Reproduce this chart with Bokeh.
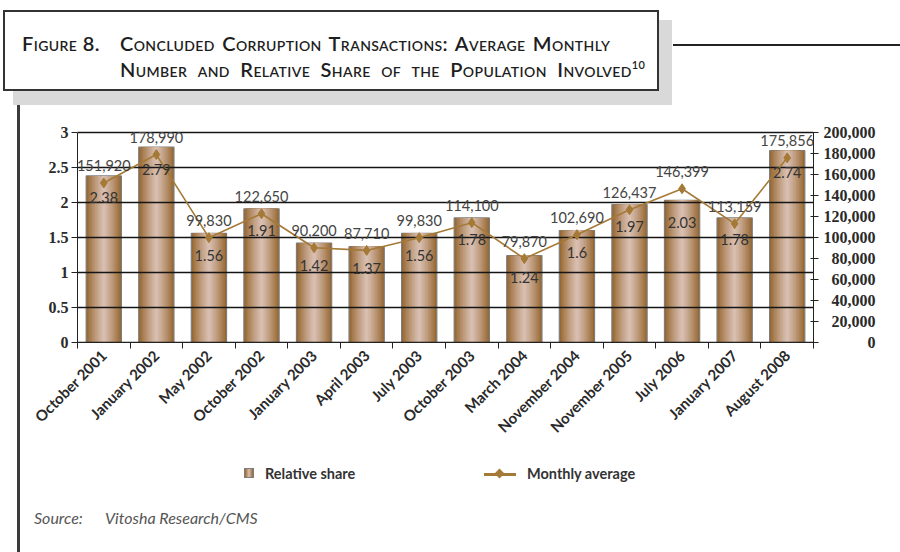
from math import pi
from bokeh.plotting import figure
from bokeh.models import (Range1d, LinearAxis, FixedTicker, NumeralTickFormatter, ColumnDataSource,
                          LabelSet, Div)
from bokeh.core.properties import value
from bokeh.layouts import column, row
from bokeh.embed import file_html
from bokeh.resources import INLINE

# ---------------- data ----------------
categories = ["October 2001", "January 2002", "May 2002", "October 2002", "January 2003",
              "April 2003", "July 2003", "October 2003", "March 2004", "November 2004",
              "November 2005", "July 2006", "January 2007", "August 2008"]
relative_share = [2.38, 2.79, 1.56, 1.91, 1.42, 1.37, 1.56, 1.78, 1.24, 1.6, 1.97, 2.03, 1.78, 2.74]
monthly_average = [151920, 178990, 99830, 122650, 90200, 87710, 99830, 114100, 79870, 102690,
                   126437, 146399, 113159, 175856]
left_ticks = [0, 0.5, 1, 1.5, 2, 2.5, 3]
right_ticks = [0, 20000, 40000, 60000, 80000, 100000, 120000, 140000, 160000, 180000, 200000]
series_names = ["Relative share", "Monthly average"]
source_note = ("Source:", "Vitosha Research/CMS")

# ---------------- styling ----------------
LINE_COLOR = "#a57936"
EDGE = (150, 102, 46)
CENTER = (216, 190, 176)
BAR_W = 0.67
N_LAYERS = 12
HEADROOM = 1.1  # ranges extend a little above the top tick so labels are not clipped

xs = list(range(len(categories)))
src = ColumnDataSource(dict(
    x=xs, share=relative_share, monthly=monthly_average,
    share_txt=[f"{v:g}" for v in relative_share],
    monthly_txt=[f"{v:,}" for v in monthly_average],
))

p = figure(width=872, height=344, title=None, toolbar_location=None, output_backend="svg",
           x_range=Range1d(-0.5, len(categories) - 0.5),
           y_range=Range1d(0, left_ticks[-1] * HEADROOM),
           min_border_left=57, min_border_right=79, min_border_top=3, min_border_bottom=110,
           outline_line_color=None, background_fill_color="white", border_fill_color="white",
           margin=0)
p.extra_y_ranges = {"right": Range1d(0, right_ticks[-1] * HEADROOM)}

# bars with a cylinder-like gradient made of nested layers
for k in range(N_LAYERS):
    t = (k / (N_LAYERS - 1)) ** 0.85
    col = tuple(int(round(EDGE[i] + (CENTER[i] - EDGE[i]) * t)) for i in range(3))
    w = BAR_W * (N_LAYERS - k) / N_LAYERS
    p.vbar(x="x", top="share", width=w, bottom=0, source=src, fill_color="#%02x%02x%02x" % col,
           line_color="#7d7d7d" if k == 0 else None, line_width=1.2)

# horizontal gridlines drawn over the bars (at the left-axis ticks)
p.xgrid.visible = False
p.ygrid.visible = False
p.hspan(y=left_ticks, line_color="#151515", line_width=1.3)

# line with diamond markers
p.line("x", "monthly", source=src, y_range_name="right", line_color=LINE_COLOR, line_width=1.6)
p.scatter("x", "monthly", source=src, y_range_name="right", marker="diamond", size=10,
          fill_color=LINE_COLOR, line_color=LINE_COLOR)

# left axis
p.yaxis.ticker = FixedTicker(ticks=left_ticks)
p.yaxis.bounds = (left_ticks[0], left_ticks[-1])
p.yaxis.formatter = NumeralTickFormatter(format="0.[0]")
p.yaxis.axis_line_color = "#222"
p.yaxis.major_tick_line_color = "#222"
p.yaxis.major_tick_out = 6
p.yaxis.major_tick_in = 0
p.yaxis.minor_tick_line_color = None
p.yaxis.major_label_standoff = 3
p.yaxis.major_label_text_font = "Liberation Serif"
p.yaxis.major_label_text_font_style = "bold"
p.yaxis.major_label_text_font_size = "16px"
p.yaxis.major_label_text_color = "#2a2a2a"

# bottom axis: labels at category centers, ticks at category boundaries
p.xaxis.ticker = FixedTicker(ticks=xs, minor_ticks=[i - 0.5 for i in range(len(categories) + 1)])
p.xaxis.major_label_overrides = {i: c for i, c in zip(xs, categories)}
p.xaxis.major_tick_out = 0
p.xaxis.major_tick_in = 0
p.xaxis.minor_tick_out = 6
p.xaxis.minor_tick_in = 0
p.xaxis.minor_tick_line_color = "#222"
p.xaxis.axis_line_color = "#222"
p.xaxis.major_label_orientation = pi / 4
p.xaxis.major_label_standoff = 4
p.xaxis.major_label_text_font = "Lato"
p.xaxis.major_label_text_font_style = "bold"
p.xaxis.major_label_text_font_size = "15px"
p.xaxis.major_label_text_color = "#2a2a2a"

# right axis; labels padded with figure/punctuation spaces so they line up on the right
widest = f"{right_ticks[-1]:,}"
def pad(s):
    pre = widest[:len(widest) - len(s)]
    return "".join("\u2008" if ch == "," else "\u2007" for ch in pre) + s

ra = LinearAxis(y_range_name="right", ticker=FixedTicker(ticks=right_ticks),
                bounds=(right_ticks[0], right_ticks[-1]),
                major_label_overrides={v: pad(f"{v:,}") for v in right_ticks},
                axis_line_color="#222", major_tick_line_color="#222",
                major_tick_in=3, major_tick_out=5, minor_tick_line_color=None,
                major_label_standoff=5, major_label_text_font="Liberation Serif",
                major_label_text_font_style="bold", major_label_text_font_size="16px",
                major_label_text_color="#2a2a2a")
p.add_layout(ra, "right")

# data labels
p.add_layout(LabelSet(x="x", y="share", text="share_txt", source=src, y_offset=-22,
                      text_align="center", text_baseline="middle", text_font=value("Lato"),
                      text_font_size="14.5px", text_color="#333"))
p.add_layout(LabelSet(x="x", y="monthly", text="monthly_txt", source=src, y_range_name="right",
                      y_offset=17, text_align="center", text_baseline="middle",
                      text_font=value("Lato"), text_font_size="14.5px", text_color="#444"))

# ---------------- page chrome (title box, legend, source, left rule) ----------------
title_font = ("font-family:Lato;font-variant:small-caps;font-size:20px;line-height:26px;"
              "letter-spacing:0.4px;color:#1e1e1e;white-space:nowrap;font-weight:600;")
title_html = f"""
<div style="position:relative;width:884px;height:100px;">
  <div style="position:absolute;left:5px;top:12px;width:659px;height:85px;background:#d9d9d9;"></div>
  <div style="position:absolute;left:-5px;top:2px;width:656px;height:81px;border:2px solid #333;background:#fff;"></div>
  <div style="position:absolute;left:665px;top:36px;width:227px;height:2px;background:#222;"></div>
  <div style="position:absolute;left:14px;top:22px;{title_font}">Figure 8.</div>
  <div style="position:absolute;left:112px;top:22px;{title_font}word-spacing:2px;">Concluded Corruption Transactions: Average Monthly</div>
  <div style="position:absolute;left:112px;top:48px;{title_font}word-spacing:5px;">Number and Relative Share of the Population Involved<span style="font-size:11px;position:relative;top:-8px;font-variant:normal;word-spacing:0;">10</span></div>
  <div style="position:absolute;left:9px;top:97px;width:3px;height:4px;background:#3a3a3a;"></div>
</div>
"""
title_div = Div(text=title_html, width=884, height=100, margin=0)

rule_div = Div(text='<div style="position:relative;width:12px;height:344px;">'
                    '<div style="position:absolute;left:9px;top:0;width:3px;height:344px;'
                    'background:#3a3a3a;"></div></div>', width=12, height=344, margin=0)

leg_font = "font-family:Lato;font-weight:700;font-size:14.5px;line-height:18px;color:#333;white-space:nowrap;"
src_font = "font-family:Lato;font-style:italic;font-size:16px;line-height:20px;color:#555;white-space:nowrap;"
bottom_html = f"""
<div style="position:relative;width:884px;height:92px;">
  <div style="position:absolute;left:9px;top:0;width:3px;height:100px;background:#3a3a3a;"></div>
  <div style="position:absolute;left:236px;top:16px;width:10px;height:10px;border:1px solid #7d7d7d;
       background:linear-gradient(to right,#96662e,#d8beb0 50%,#96662e);"></div>
  <div style="position:absolute;left:257px;top:13px;{leg_font}">{series_names[0]}</div>
  <div style="position:absolute;left:476px;top:21px;width:32px;height:3px;background:{LINE_COLOR};"></div>
  <div style="position:absolute;left:488px;top:18px;width:7px;height:7px;background:{LINE_COLOR};transform:rotate(45deg);"></div>
  <div style="position:absolute;left:519px;top:13px;{leg_font}">{series_names[1]}</div>
  <div style="position:absolute;left:26px;top:56px;{src_font}">{source_note[0]}</div>
  <div style="position:absolute;left:97px;top:56px;{src_font}">{source_note[1]}</div>
</div>
"""
bottom_div = Div(text=bottom_html, width=884, height=92, margin=0)

layout = column(title_div, row(rule_div, p, spacing=0, margin=0), bottom_div,
                spacing=0, margin=(8, 8, 0, 8))
open("out.html", "w").write(file_html(layout, INLINE))
